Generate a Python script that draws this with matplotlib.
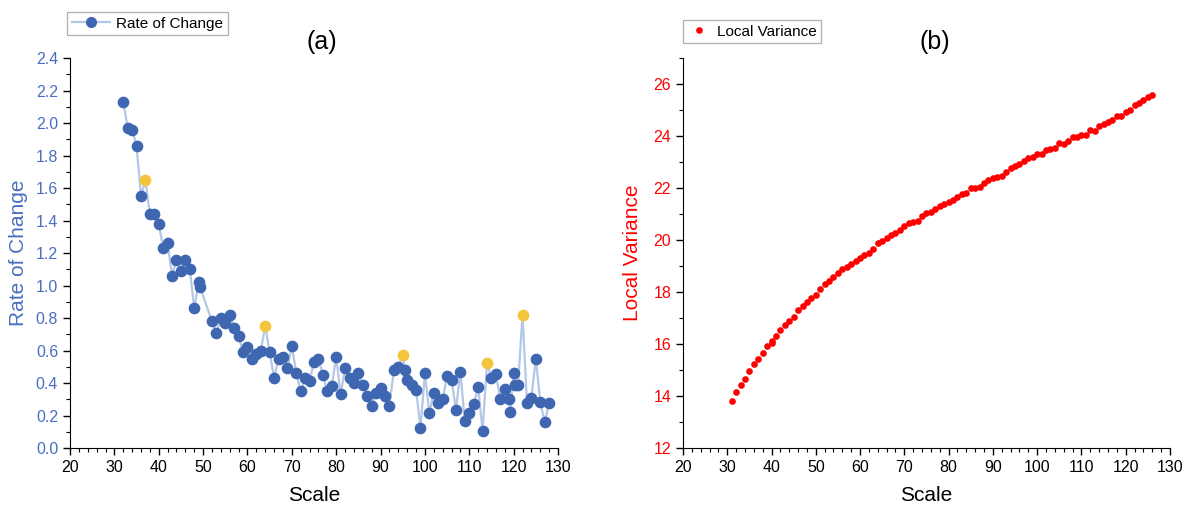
import numpy as np
import matplotlib.pyplot as plt
from matplotlib.ticker import MultipleLocator
from matplotlib.lines import Line2D

plt.rcParams['font.family'] = ['Liberation Sans', 'DejaVu Sans']

# (a) rate of change vs scale
roc_scale = [32, 33, 34, 35, 36, 37, 38, 39, 40, 41, 42, 43, 44, 45, 46, 47, 48, 49, 49.3,
             52, 53, 54, 55, 56, 57, 58, 59, 60, 61, 62, 63, 64, 65, 66, 67, 68, 69, 70,
             71, 72, 73, 74, 75, 76, 77, 78, 79, 80, 81, 82, 83, 84, 85, 86, 87, 88, 89,
             90, 91, 92, 93, 94, 95, 95.5, 96, 97, 98, 99, 100, 101, 102, 103, 104, 105,
             106, 107, 108, 109, 110, 111, 112, 113, 114, 115, 116, 117, 118, 119, 119.2,
             120, 120.4, 121, 122, 123, 124, 125, 126, 127, 128]
roc_value = [2.13, 1.97, 1.96, 1.86, 1.55, 1.65, 1.44, 1.44, 1.38, 1.23, 1.26, 1.06, 1.16,
             1.09, 1.16, 1.10, 0.86, 1.02, 0.99,
             0.78, 0.71, 0.80, 0.77, 0.82, 0.74, 0.69, 0.59, 0.62, 0.55, 0.58, 0.60, 0.75,
             0.59, 0.43, 0.55, 0.56, 0.49, 0.63,
             0.46, 0.35, 0.43, 0.41, 0.53, 0.55, 0.45, 0.35, 0.38, 0.56, 0.33, 0.49, 0.43,
             0.40, 0.46, 0.39, 0.32, 0.26, 0.34,
             0.37, 0.32, 0.26, 0.48, 0.50, 0.57, 0.48, 0.42, 0.39, 0.36, 0.125, 0.46, 0.215,
             0.34, 0.275, 0.30, 0.445,
             0.42, 0.235, 0.47, 0.165, 0.215, 0.27, 0.375, 0.105, 0.525, 0.43, 0.455, 0.30,
             0.365, 0.30, 0.22,
             0.46, 0.385, 0.39, 0.82, 0.28, 0.31, 0.55, 0.285, 0.16, 0.275]
highlight_scales = [37, 64, 95, 114, 122]

# (b) local variance vs scale
lv_scale = [31, 32, 33, 34, 35, 36, 37, 38, 39, 40, 40.2, 41, 42, 43, 44, 45, 46, 47, 48, 49,
            50, 51, 52, 53, 54, 55, 56, 57, 58, 59, 60, 61, 62, 63, 64, 65, 66, 67, 68, 69,
            70, 71, 72, 73, 74, 75, 76, 77, 78, 79, 80, 81, 82, 83, 84, 85, 86, 87, 88, 89,
            90, 91, 92, 93, 94, 95, 96, 97, 98, 99, 100, 101, 102, 103, 104, 105, 106, 107,
            108, 109, 110, 111, 112, 113, 114, 115, 116, 117, 118, 119, 120, 121, 122, 123,
            124, 125, 126]
lv_value = [13.82, 14.14, 14.42, 14.65, 14.97, 15.23, 15.43, 15.64, 15.92, 16.03, 16.13,
            16.31, 16.55, 16.72, 16.90, 17.04, 17.32, 17.45, 17.60, 17.78,
            17.90, 18.13, 18.30, 18.41, 18.58, 18.72, 18.90, 18.96, 19.08, 19.18, 19.32,
            19.42, 19.51, 19.65, 19.88, 19.96, 20.09, 20.19, 20.28, 20.40,
            20.56, 20.66, 20.71, 20.73, 20.92, 21.03, 21.09, 21.18, 21.31, 21.37, 21.46,
            21.55, 21.65, 21.76, 21.83, 21.99, 22.00, 22.03, 22.18, 22.31,
            22.38, 22.44, 22.45, 22.60, 22.78, 22.86, 22.92, 23.05, 23.14, 23.19, 23.30,
            23.30, 23.45, 23.51, 23.55, 23.74, 23.69, 23.81,
            23.96, 23.97, 24.03, 24.05, 24.22, 24.19, 24.37, 24.47, 24.54, 24.63, 24.76,
            24.77, 24.91, 25.00, 25.18, 25.28,
            25.38, 25.51, 25.60]

blue = '#3F66B1'
light_blue = '#B4C7E7'
gold = '#F2C53D'
label_blue = '#4A6EBF'

fig = plt.figure(figsize=(11.89, 5.09), dpi=100)
ax1 = fig.add_axes([0.0589, 0.1198, 0.4104, 0.766])
ax2 = fig.add_axes([0.5744, 0.1198, 0.4096, 0.766])

roc_scale = np.array(roc_scale)
roc_value = np.array(roc_value)
hl = np.isin(roc_scale, highlight_scales)

ax1.plot(roc_scale, roc_value, color=light_blue, lw=1.6, zorder=1)
ax1.plot(roc_scale[~hl], roc_value[~hl], 'o', color=blue, ms=7.4, zorder=2)
ax1.plot(roc_scale[hl], roc_value[hl], 'o', color=gold, ms=7.4, zorder=3)
ax1.set_xlim(20, 130)
ax1.set_ylim(0, 2.4)
ax1.yaxis.set_major_locator(MultipleLocator(0.2))
ax1.yaxis.set_minor_locator(MultipleLocator(0.1))
ax1.set_ylabel('Rate of Change', color=label_blue, fontsize=15, labelpad=6)
ax1.tick_params(axis='y', labelcolor=label_blue)

ax2.plot(lv_scale, lv_value, 'o', color='#FF0000', ms=4.8, mec='none')
ax2.set_xlim(20, 130)
ax2.set_ylim(12, 27)
ax2.yaxis.set_major_locator(MultipleLocator(2))
ax2.yaxis.set_minor_locator(MultipleLocator(1))
ax2.set_ylabel('Local Variance', color='#FF0000', fontsize=15, labelpad=8)
ax2.tick_params(axis='y', labelcolor='#FF0000')

for ax in (ax1, ax2):
    ax.spines['top'].set_visible(False)
    ax.spines['right'].set_visible(False)
    ax.xaxis.set_major_locator(MultipleLocator(10))
    ax.xaxis.set_minor_locator(MultipleLocator(2))
    ax.tick_params(which='major', direction='out', length=5, width=1, labelsize=11.5)
    ax.tick_params(which='minor', direction='out', length=3, width=0.8)
    ax.set_xlabel('Scale', fontsize=15, labelpad=8)

h1 = Line2D([], [], color=light_blue, lw=1.6, marker='o', mfc=blue, mec=blue, ms=7)
ax1.legend([h1], ['Rate of Change'], loc='lower left', bbox_to_anchor=(-0.006, 1.059),
           borderaxespad=0, fancybox=False, edgecolor='#A0A0A0', fontsize=11,
           handlelength=2.5, borderpad=0.3, handletextpad=0.4)
h2 = Line2D([], [], ls='none', marker='o', color='#FF0000', mec='none', ms=4.8)
ax2.legend([h2], ['Local Variance'], loc='lower left', bbox_to_anchor=(0.0, 1.038),
           borderaxespad=0, fancybox=False, edgecolor='#A0A0A0', fontsize=11,
           handlelength=1.5, borderpad=0.3, handletextpad=0.4)

fig.text(322 / 1189, 1 - 42 / 509, '(a)', ha='center', va='center', fontsize=18)
fig.text(935 / 1189, 1 - 42 / 509, '(b)', ha='center', va='center', fontsize=18)

fig.savefig('out.png', dpi=100)
